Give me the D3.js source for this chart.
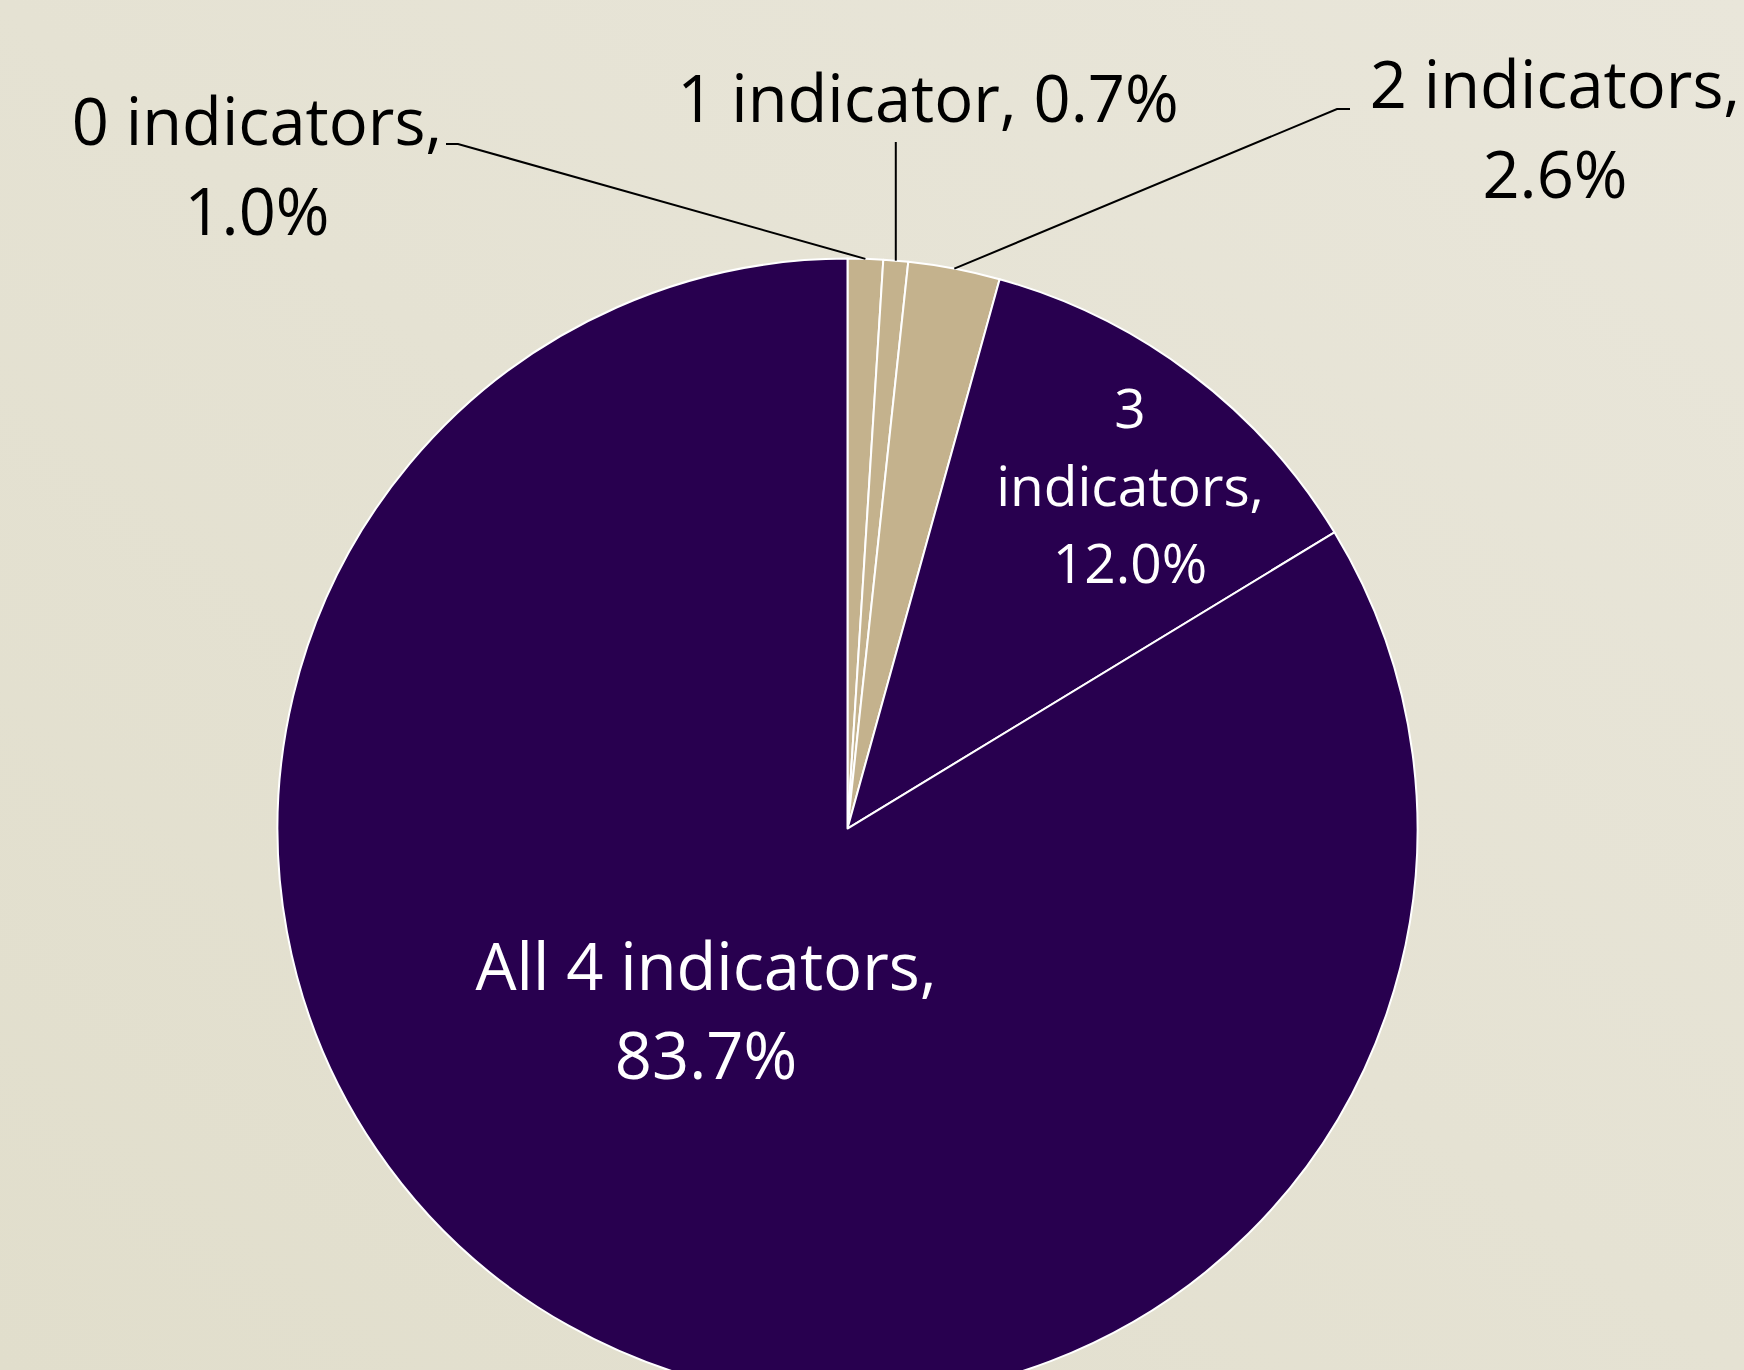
<!DOCTYPE html>
<html>
<head>
<meta charset="utf-8">
<script src="https://cdn.jsdelivr.net/npm/d3@7"></script>
<style>
  html, body { margin: 0; padding: 0; }
  body { width: 1744px; height: 1370px; overflow: hidden; }
  text { font-family: "Open Sans", "Noto Sans", sans-serif; }
</style>
</head>
<body>
<div id="chart"></div>
<script>
// share of records meeting N indicators
const categories = ["0 indicators", "1 indicator", "2 indicators", "3 indicators", "All 4 indicators"];
const values = [1.0, 0.7, 2.6, 12.0, 83.7];
const sliceColors = ["#c4b28d", "#c4b28d", "#c4b28d", "#28004f", "#28004f"];
const textColors = ["#000000", "#000000", "#000000", "#ffffff", "#ffffff"];
// words per line when the label wraps
const wraps = [[2, 1], [3], [2, 1], [1, 1, 1], [3, 1]];

const width = 1744, height = 1370;
const cx = 847.5, cy = 828.6, radius = 570;

// label placement (first baseline), leader elbow for outside labels
const labelPos = [
    {x: 257, y: 145, size: 65, lh: 90, elbow: [458, 144], end: [446, 144]},
    {x: 928, y: 122, size: 65, lh: 90, elbow: null, end: "up", top: 142},
    {x: 1555, y: 108, size: 65, lh: 90, elbow: [1337, 109], end: [1350, 109]},
    {x: 1130, y: 428, size: 55, lh: 77.5},
    {x: 706, y: 990, size: 65, lh: 89}
];

const svg = d3.select("#chart").append("svg")
    .attr("width", width)
    .attr("height", height);

const defs = svg.append("defs");
const bg = defs.append("linearGradient")
    .attr("id", "bgGrad")
    .attr("x1", "100%").attr("y1", "0%")
    .attr("x2", "0%").attr("y2", "100%");
bg.append("stop").attr("offset", "0%").attr("stop-color", "#e9e6da");
bg.append("stop").attr("offset", "100%").attr("stop-color", "#e1decc");

svg.append("rect")
    .attr("width", width)
    .attr("height", height)
    .attr("fill", "url(#bgGrad)");

const pie = d3.pie().sort(null).value(d => d);
const arcs = pie(values);

const arc = d3.arc().innerRadius(0).outerRadius(radius);
const edgeArc = d3.arc().innerRadius(radius).outerRadius(radius);

const g = svg.append("g").attr("transform", `translate(${cx},${cy})`);

g.selectAll(".slice")
    .data(arcs)
    .enter().append("path")
    .attr("class", "slice")
    .attr("d", arc)
    .attr("fill", (d, i) => sliceColors[i])
    .attr("stroke", "#ffffff")
    .attr("stroke-width", 2)
    .attr("stroke-linejoin", "round");

// leader lines for the small slices
arcs.forEach((d, i) => {
    let p = labelPos[i];
    if (!p.end) return;
    let e = edgeArc.centroid(d);
    let start = [cx + e[0], cy + e[1]];
    let pts;
    if (p.end === "up") {
        pts = [start, [start[0], p.top]];
    } else {
        pts = [start, p.elbow, p.end];
    }
    svg.append("path")
        .attr("d", d3.line()(pts))
        .attr("fill", "none")
        .attr("stroke", "#000000")
        .attr("stroke-width", 2);
});

// labels
arcs.forEach((d, i) => {
    let p = labelPos[i];
    let words = `${categories[i]}, ${values[i].toFixed(1)}%`.split(" ");
    let lines = [];
    let k = 0;
    wraps[i].forEach(n => {
        lines.push(words.slice(k, k + n).join(" "));
        k += n;
    });
    let t = svg.append("text")
        .attr("class", "label")
        .attr("text-anchor", "middle")
        .attr("fill", textColors[i])
        .style("font-size", p.size + "px");
    lines.forEach((ln, j) => {
        t.append("tspan")
            .attr("x", p.x)
            .attr("y", p.y + j * p.lh)
            .text(ln);
    });
});
</script>
</body>
</html>
